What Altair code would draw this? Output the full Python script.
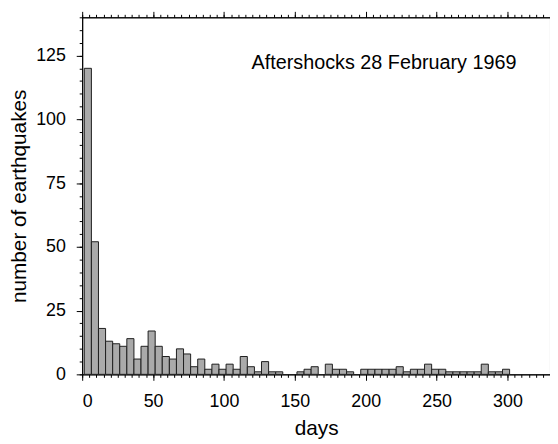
import altair as alt
import pandas as pd

# ---- data (5-day bins) ----
counts = [120, 52, 18, 13, 12, 11, 14, 6, 11, 17,
          11, 7, 6, 10, 8, 3, 6, 2, 4, 2,
          4, 2, 7, 3, 1, 5, 1, 1, 0, 0,
          1, 2, 3, 0, 4, 2, 2, 1, 0, 2,
          2, 2, 2, 2, 3, 1, 2, 2, 4, 2,
          2, 1, 1, 1, 1, 1, 4, 1, 1, 2]
bin_start = 1.5
bin_width = 5
x_major = [0, 50, 100, 150, 200, 250, 300]
x_minor = list(range(0, 331, 5))
y_major = [0, 25, 50, 75, 100, 125]
y_minor = list(range(0, 141, 5))
x_domain = [0, 330]
y_domain = [0, 140]
annotation = "Aftershocks 28 February 1969"
x_title = "days"
y_title = "number of earthquakes"

FONT = "Liberation Sans"

starts = [bin_start + i * bin_width for i in range(len(counts))]
df = pd.DataFrame({"start": starts, "count": counts})
df["end"] = df["start"] + bin_width
df = df[df["count"] > 0]

xs = alt.Scale(domain=x_domain, nice=False, zero=False)
ys = alt.Scale(domain=y_domain, nice=False)

base = alt.Chart(df)

bars = base.mark_rect(fill="#aaaaaa", stroke="#1e1e1e", strokeWidth=1).encode(
    x=alt.X("start:Q", scale=xs, axis=alt.Axis(
        orient="bottom", values=x_major, tickSize=6, labelPadding=12,
        labelBaseline="top", title=x_title, titleX=236.5, titleY=61,
        titleBaseline="alphabetic", titleAlign="center")),
    x2="end:Q",
    y=alt.Y("count:Q", scale=ys, axis=alt.Axis(
        orient="left", values=y_major, tickSize=6, labelPadding=11,
        title=y_title, titleX=-63, titleY=180.5, titleAngle=-90,
        titleBaseline="middle", titleAlign="center")),
    y2=alt.datum(0),
)

def ghost(xorient, xvals, xsize, yorient, yvals, ysize):
    return base.mark_point(opacity=0).encode(
        x=alt.X("start:Q", scale=xs, axis=alt.Axis(
            orient=xorient, values=xvals, tickSize=xsize, labels=False, title=None)),
        y=alt.Y("count:Q", scale=ys, axis=alt.Axis(
            orient=yorient, values=yvals, tickSize=ysize, labels=False, title=None)),
    )

minor_bl = ghost("bottom", x_minor, 3, "left", y_minor, 3)
major_tr = ghost("top", x_major, 6, "right", y_major, 6)
minor_tr = ghost("top", x_minor, 3, "right", y_minor, 3)

label = alt.Chart(pd.DataFrame({"t": [annotation]})).mark_text(
    align="right", baseline="alphabetic", fontSize=20, font=FONT, color="black"
).encode(text="t:N", x=alt.value(439), y=alt.value(52))

chart = alt.layer(bars, minor_bl, major_tr, minor_tr, label).resolve_axis(
    x="independent", y="independent"
).properties(
    width=473, height=361,
    padding={"left": 75, "top": 7, "right": 0, "bottom": 68},
    autosize=alt.AutoSizeParams(type="none"),
).configure_view(stroke=None).configure_axis(
    grid=False, labelFont=FONT, titleFont=FONT, labelFontSize=18,
    titleFontSize=21, labelColor="black", titleColor="black",
    titleFontWeight="normal", domainColor="black", tickColor="black",
    domainWidth=1, tickWidth=1,
)

chart.save("out.html", embed_options={"renderer": "svg", "actions": False})
